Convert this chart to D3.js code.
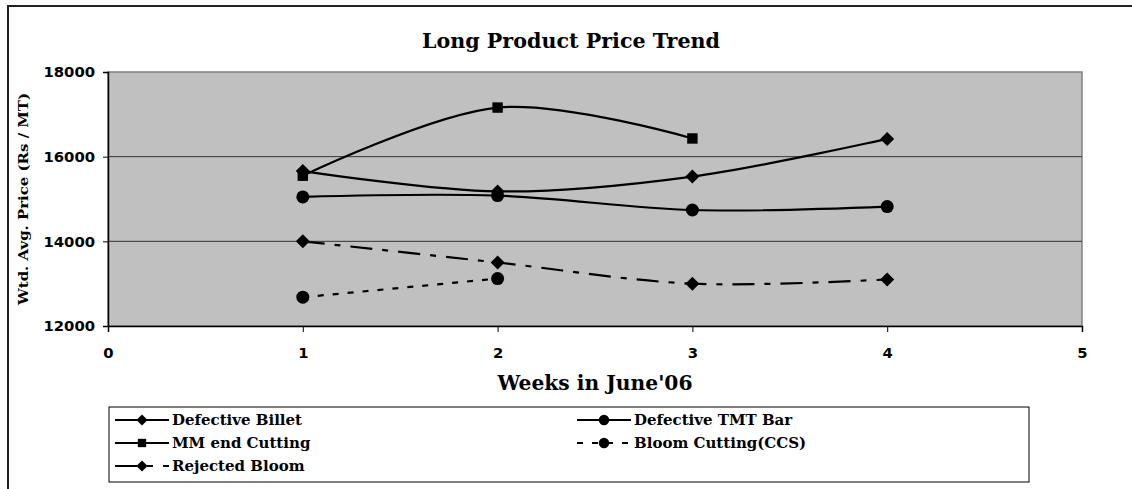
<!DOCTYPE html>
<html><head><meta charset="utf-8">
<script src="https://cdn.jsdelivr.net/npm/d3@7"></script>
<style>body{margin:0;background:#fff}svg{display:block}</style>
</head><body>
<svg id="c" width="1132" height="489"></svg>
<script>
const weeks = [1, 2, 3, 4];
const defectiveBillet = [15660, 15180, 15530, 16420];
const defectiveTMT = [15050, 15080, 14740, 14820];
const mmEndCutting = [15550, 17160, 16430, null];
const bloomCutting = [12680, 13120, null, null];
const rejectedBloom = [14000, 13500, 13000, 13100];
const yTicks = [12000, 14000, 16000, 18000];
const xTicks = [0, 1, 2, 3, 4, 5];
const seriesNames = ["Defective Billet", "Defective TMT Bar", "MM end Cutting", "Bloom Cutting(CCS)", "Rejected Bloom"];

const series = [
  {name: seriesNames[0], values: defectiveBillet, marker: "diamond", dash: null},
  {name: seriesNames[1], values: defectiveTMT, marker: "circle", dash: null},
  {name: seriesNames[2], values: mmEndCutting, marker: "square", dash: null},
  {name: seriesNames[3], values: bloomCutting, marker: "circle", dash: "6,9"},
  {name: seriesNames[4], values: rejectedBloom, marker: "diamond", dash: "22,10,6,10"}
];

const svg = d3.select("#c");
const L = 108, R = 1082, T = 72, B = 326;
const x = d3.scaleLinear().domain([0, 5]).range([L, R]);
const y = d3.scaleLinear().domain([12000, 18000]).range([B, T]);

// outer border
svg.append("path").attr("d", `M8,489 L8,6 L1132,6`).attr("fill", "none").attr("stroke", "#222").attr("stroke-width", 2);

// plot area
svg.append("rect").attr("x", L).attr("y", T).attr("width", R - L).attr("height", B - T)
  .attr("fill", "#c0c0c0").attr("stroke", "#808080").attr("stroke-width", 1.5);

// gridlines
svg.append("g").selectAll("line").data(yTicks.filter(v => v > 12000 && v < 18000)).join("line")
  .attr("x1", L).attr("x2", R).attr("y1", d => y(d)).attr("y2", d => y(d))
  .attr("stroke", "#333").attr("stroke-width", 1);

// axes
const yAxis = d3.axisLeft(y).tickValues(yTicks).tickSize(5).tickPadding(8).tickFormat(d3.format("d"));
const gy = svg.append("g").attr("transform", `translate(${L},0)`).call(yAxis);
gy.select(".domain").attr("stroke", "#000").attr("stroke-width", 1.5);
gy.selectAll(".tick line").attr("stroke", "#000");
gy.selectAll("text").attr("font-family", "DejaVu Sans").attr("font-weight", "bold").attr("font-size", 14.8).attr("fill", "#000");

const xAxis = d3.axisBottom(x).tickValues(xTicks).tickSize(6).tickPadding(15).tickFormat(d3.format("d"));
const gx = svg.append("g").attr("transform", `translate(0,${B})`).call(xAxis);
gx.select(".domain").attr("stroke", "#000").attr("stroke-width", 1.5);
gx.selectAll(".tick line").attr("stroke", "#000");
gx.selectAll("text").attr("font-family", "DejaVu Sans").attr("font-weight", "bold").attr("font-size", 14.8).attr("fill", "#000");

// titles
svg.append("text").attr("x", 571).attr("y", 48).attr("text-anchor", "middle")
  .attr("font-family", "DejaVu Serif").attr("font-weight", "bold").attr("font-size", 21)
  .attr("textLength", 298).attr("lengthAdjust", "spacingAndGlyphs").text("Long Product Price Trend");
svg.append("text").attr("x", (L + R) / 2).attr("y", 390).attr("text-anchor", "middle")
  .attr("font-family", "DejaVu Serif").attr("font-weight", "bold").attr("font-size", 20)
  .attr("textLength", 195).attr("lengthAdjust", "spacingAndGlyphs").text("Weeks in June'06");
svg.append("text").attr("transform", `translate(28,${(T + B) / 2}) rotate(-90)`).attr("text-anchor", "middle")
  .attr("font-family", "DejaVu Serif").attr("font-weight", "bold").attr("font-size", 13)
  .attr("textLength", 212).attr("lengthAdjust", "spacingAndGlyphs").text("Wtd. Avg. Price (Rs / MT)");

function marker(g, type, cx, cy, scale) {
  scale = scale || 1;
  if (type === "diamond") {
    const s = 7 * scale;
    g.append("path").attr("d", `M${cx},${cy - s} L${cx + s},${cy} L${cx},${cy + s} L${cx - s},${cy} Z`).attr("fill", "#000");
  } else if (type === "circle") {
    g.append("circle").attr("cx", cx).attr("cy", cy).attr("r", 6.5 * scale).attr("fill", "#000");
  } else {
    const s = 5.2 * scale;
    g.append("rect").attr("x", cx - s).attr("y", cy - s).attr("width", 2 * s).attr("height", 2 * s).attr("fill", "#000");
  }
}

const line = d3.line().defined(d => d[1] != null).x(d => x(d[0])).y(d => y(d[1])).curve(d3.curveCatmullRom.alpha(0));
const plot = svg.append("g");
series.forEach(s => {
  const pts = weeks.map((w, i) => [w, s.values[i]]).filter(d => d[1] != null);
  plot.append("path").datum(pts).attr("d", line).attr("fill", "none").attr("stroke", "#000")
    .attr("stroke-width", 2.2).attr("stroke-dasharray", s.dash);
});
series.forEach(s => {
  weeks.forEach((w, i) => { if (s.values[i] != null) marker(plot, s.marker, x(w), y(s.values[i])); });
});

// legend
const lg = svg.append("g");
lg.append("rect").attr("x", 109).attr("y", 407).attr("width", 920).attr("height", 75)
  .attr("fill", "#fff").attr("stroke", "#000").attr("stroke-width", 1);
const pos = [[115, 420], [577, 420], [115, 443], [577, 443], [115, 466]];
series.forEach((s, i) => {
  const [lx, ly] = pos[i];
  lg.append("line").attr("x1", lx).attr("x2", lx + 54).attr("y1", ly).attr("y2", ly)
    .attr("stroke", "#000").attr("stroke-width", 2.2).attr("stroke-dasharray", s.dash);
  marker(lg, s.marker, lx + 27, ly, 0.8);
  lg.append("text").attr("x", lx + 57).attr("y", ly + 5).attr("font-family", "DejaVu Serif")
    .attr("font-weight", "bold").attr("font-size", 15).text(s.name);
});
</script>
</body></html>
